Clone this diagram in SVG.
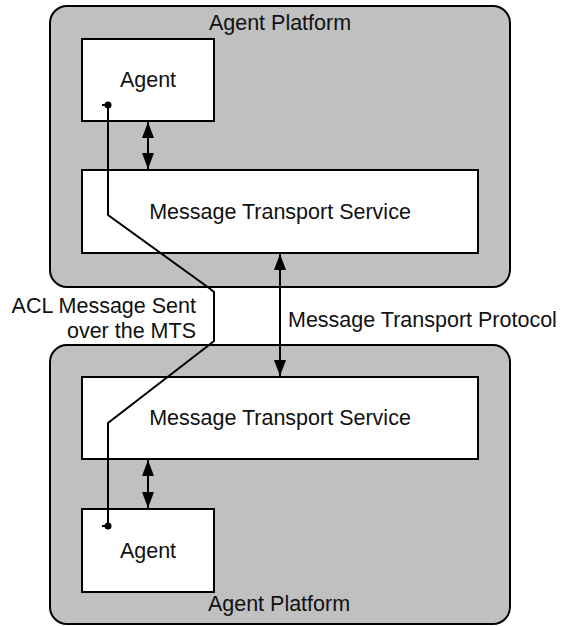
<svg xmlns="http://www.w3.org/2000/svg" width="562" height="626" viewBox="0 0 562 626">
<style>
.plat{fill:#c0c0c0;stroke:#000;stroke-width:2}
.box{fill:#fff;stroke:#000;stroke-width:2}
.t{font-family:"Liberation Sans",Arial,sans-serif;font-size:21.5px;fill:#111}
.c{text-anchor:middle}
.e{text-anchor:end}
.ln{fill:none;stroke:#000;stroke-width:2}
</style>
<defs>
<marker id="ah" viewBox="0 0 16 12" refX="16" refY="6" markerWidth="16" markerHeight="12" markerUnits="userSpaceOnUse" orient="auto-start-reverse">
<path d="M0,0 L16,6 L0,12 Z" fill="#000"/>
</marker>
</defs>
<g id="platform-top">
<rect class="plat" x="50" y="6" width="460" height="281" rx="17" ry="17"/>
<text class="t c" x="280" y="30">Agent Platform</text>
</g>
<g id="platform-bottom">
<rect class="plat" x="50" y="345" width="460" height="279" rx="17" ry="17"/>
<text class="t c" x="279" y="611">Agent Platform</text>
</g>
<g id="agent-top">
<rect class="box" x="82" y="39" width="132" height="82"/>
<text class="t c" x="148" y="87">Agent</text>
</g>
<g id="mts-top">
<rect class="box" x="82" y="170" width="396" height="83"/>
<text class="t c" x="280" y="219">Message Transport Service</text>
</g>
<g id="mts-bottom">
<rect class="box" x="82" y="377" width="396" height="82"/>
<text class="t c" x="280" y="425">Message Transport Service</text>
</g>
<g id="agent-bottom">
<rect class="box" x="82" y="509" width="132" height="83"/>
<text class="t c" x="148" y="558">Agent</text>
</g>
<g id="labels">
<text class="t e" x="196" y="313">ACL Message Sent</text>
<text class="t e" x="196" y="338">over the MTS</text>
<text class="t" x="288" y="327">Message Transport Protocol</text>
</g>
<g id="connectors">
<line class="ln" x1="148" y1="122" x2="148" y2="169" marker-start="url(#ah)" marker-end="url(#ah)"/>
<line class="ln" x1="148" y1="460" x2="148" y2="508" marker-start="url(#ah)" marker-end="url(#ah)"/>
<line class="ln" x1="280" y1="254" x2="280" y2="376" marker-start="url(#ah)" marker-end="url(#ah)"/>
<path class="ln" d="M108,105 V215 L209,288 L214,292 V341 L209,345 L108,423 V526"/>
<circle cx="108" cy="105" r="3.5" fill="#000"/>
<line class="ln" x1="102" y1="105" x2="108" y2="105"/>
<circle cx="108" cy="526" r="3.5" fill="#000"/>
<line class="ln" x1="102" y1="526" x2="108" y2="526"/>
</g>
</svg>
